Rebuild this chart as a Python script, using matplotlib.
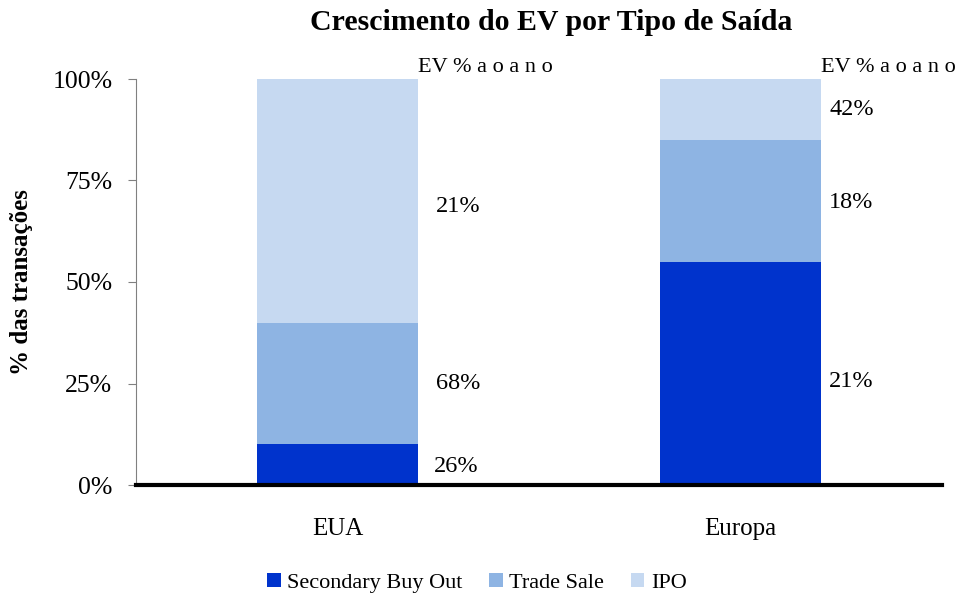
import matplotlib
matplotlib.use("Agg")
import matplotlib.pyplot as plt
import numpy as np

plt.rcParams['font.family'] = ['Liberation Serif', 'DejaVu Serif']

categories = ["EUA", "Europa"]
series_names = ["Secondary Buy Out", "Trade Sale", "IPO"]
sbo = [10, 55]
trade = [30, 30]
ipo = [60, 15]
colors = ["#0033CC", "#8EB4E3", "#C6D9F1"]
ev_labels = [["26%", "68%", "21%"], ["21%", "18%", "42%"]]
yticks = [0, 25, 50, 75, 100]

fig = plt.figure(figsize=(9.59, 6.0), dpi=100)
ax = fig.add_axes([136/959, 1-485/600, 806/959, 406/600])

x = np.arange(len(categories))
w = 0.4
bottoms = np.zeros(len(categories))
for vals, c, name in zip([sbo, trade, ipo], colors, series_names):
    ax.bar(x, vals, w, bottom=bottoms, color=c, label=name, edgecolor='none')
    bottoms += np.array(vals)

# EV growth labels
label_pos = {0: [(0.24, 4.5), (0.245, 25), (0.245, 68.5)],
             1: [(0.22, 25.5), (0.22, 69.5), (0.22, 92.5)]}
for i in range(len(categories)):
    for j, txt in enumerate(ev_labels[i]):
        dx, yv = label_pos[i][j]
        ax.text(x[i] + dx, yv, txt, fontsize=17.5, va='center', ha='left')
    ax.text(x[i] + 0.2, 100.6, "EV % a o a n o", fontsize=16, va='bottom', ha='left')

ax.set_xlim(-0.5, 1.5)
ax.set_ylim(0, 100)
ax.set_yticks(yticks)
ax.set_yticklabels([f"{t}%" for t in yticks], fontsize=18.5)
ax.set_xticks(x)
ax.set_xticklabels(categories, fontsize=18)
ax.tick_params(axis='x', length=0, pad=24)
ax.tick_params(axis='y', direction='out', length=6, color='#808080', pad=11)

ax.spines['top'].set_visible(False)
ax.spines['right'].set_visible(False)
ax.spines['left'].set_color('#808080')
ax.spines['bottom'].set_color('black')
ax.spines['bottom'].set_linewidth(3)

ax.set_ylabel("% das transações", fontsize=18, fontweight='bold')
ax.yaxis.set_label_coords(-(136-33)/806, 0.5)

fig.text(551/959, 1-22/600, "Crescimento do EV por Tipo de Saída", fontsize=21.5,
         fontweight='bold', ha='center', va='center')

handles, labels = ax.get_legend_handles_labels()
fig.legend(handles, labels, loc='center', bbox_to_anchor=(477/959, 1-583/600), ncol=3,
           frameon=False, fontsize=16, handlelength=0.6, handleheight=0.6,
           handletextpad=0.3, columnspacing=1.2)

fig.savefig("out.png", dpi=100)
